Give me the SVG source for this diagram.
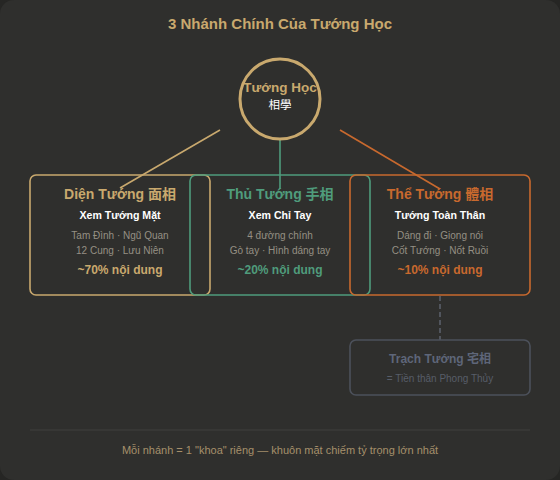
<svg xmlns="http://www.w3.org/2000/svg" width="560" height="480" viewBox="0 0 560 480">
<style>
text{font-family:"Liberation Sans","Noto Sans CJK SC",Arial,sans-serif;text-anchor:middle}
.card{fill:none;stroke-width:1.6}
.t{font-size:14px;font-weight:bold}
.s{font-size:10.6px;font-weight:bold;fill:#ffffff}
.d{font-size:10px;fill:#958f84}
.p{font-size:12px;font-weight:bold}
.gold{fill:#c9a96e}
.green{fill:#4f9c7c}
.orange{fill:#c8692e}
</style>
<rect x="0" y="0" width="560" height="480" fill="#262624"/>
<rect x="0" y="0" width="560" height="480" rx="14" fill="#2f2f2d"/>
<text x="280" y="29" class="gold" style="font-size:15px;font-weight:bold">3 Nhánh Chính Của Tướng Học</text>
<g id="connectors">
<line x1="220" y1="130" x2="120" y2="188" stroke="#c9a96e" stroke-width="1.6"/>
<line x1="280" y1="139" x2="280" y2="189" stroke="#4f9c7c" stroke-width="1.6"/>
<line x1="340" y1="130" x2="440" y2="189" stroke="#c8692e" stroke-width="1.6"/>
<line x1="440" y1="296" x2="440" y2="340" stroke="#5a5f6a" stroke-width="1.6" stroke-dasharray="5,3"/>
</g>
<g id="root">
<circle cx="280" cy="99" r="40" fill="#2f2f2d" stroke="#c9a96e" stroke-width="3"/>
<text x="280" y="92" class="gold" style="font-size:13.5px;font-weight:bold">Tướng Học</text>
<text x="280" y="109" style="font-size:11.5px;fill:#ffffff">相學</text>
</g>
<g id="dien-tuong">
<rect x="30" y="175" width="180" height="120" rx="6" class="card" stroke="#c9a96e"/>
<text x="120" y="199" class="t gold">Diện Tướng 面相</text>
<text x="120" y="219" class="s">Xem Tướng Mặt</text>
<text x="120" y="239" class="d">Tam Đình · Ngũ Quan</text>
<text x="120" y="254" class="d">12 Cung · Lưu Niên</text>
<text x="120" y="274" class="p gold">~70% nội dung</text>
</g>
<g id="thu-tuong">
<rect x="190" y="175" width="180" height="120" rx="6" class="card" stroke="#4f9c7c"/>
<text x="280" y="199" class="t green">Thủ Tướng 手相</text>
<text x="280" y="219" class="s">Xem Chỉ Tay</text>
<text x="280" y="239" class="d">4 đường chính</text>
<text x="280" y="254" class="d">Gò tay · Hình dáng tay</text>
<text x="280" y="274" class="p green">~20% nội dung</text>
</g>
<g id="the-tuong">
<rect x="350" y="175" width="180" height="120" rx="6" class="card" stroke="#c8692e"/>
<text x="440" y="199" class="t orange">Thể Tướng 體相</text>
<text x="440" y="219" class="s">Tướng Toàn Thân</text>
<text x="440" y="239" class="d">Dáng đi · Giọng nói</text>
<text x="440" y="254" class="d">Cốt Tướng · Nốt Ruồi</text>
<text x="440" y="274" class="p orange">~10% nội dung</text>
</g>
<g id="trach-tuong">
<rect x="350" y="340" width="180" height="55" rx="6" fill="none" stroke="#4c515b" stroke-width="1.6"/>
<text x="440" y="363" style="font-size:12px;font-weight:bold;fill:#5e6679">Trạch Tướng 宅相</text>
<text x="440" y="382" style="font-size:10px;fill:#575d68">= Tiền thân Phong Thủy</text>
</g>
<line x1="30" y1="430" x2="530" y2="430" stroke="#3b3b39" stroke-width="1.5"/>
<text x="280" y="454" style="font-size:11px;fill:#a68f6b">Mỗi nhánh = 1 "khoa" riêng — khuôn mặt chiếm tỷ trọng lớn nhất</text>
</svg>
